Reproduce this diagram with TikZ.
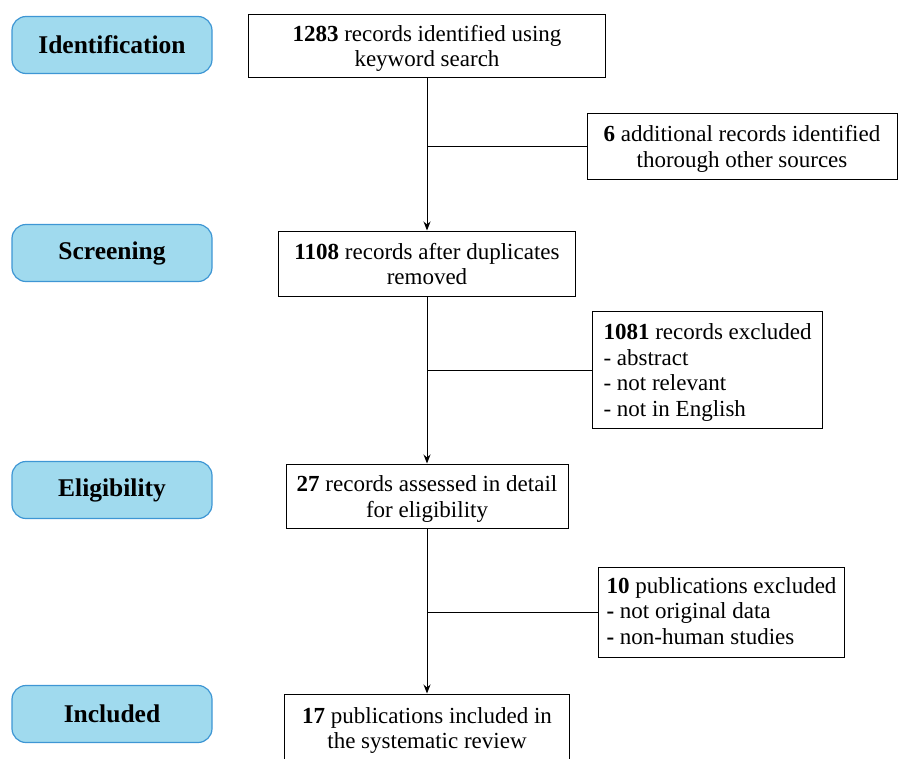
\documentclass[tikz,border=0pt]{standalone}
\usepackage{fontspec}
\setmainfont{Liberation Serif}
\usetikzlibrary{arrows.meta}
\definecolor{stagefill}{RGB}{160,218,238}
\definecolor{stageline}{RGB}{62,150,212}
\tikzset{
  stage/.style={draw=stageline,fill=stagefill,line width=1.2pt,rounded corners=14pt,
    minimum width=200pt,minimum height=57pt,font=\fontsize{25.5}{28}\selectfont\bfseries},
  recbox/.style={draw,line width=1pt,align=center,inner sep=0pt,text height=47pt,text depth=5pt,
    font=\fontsize{23}{25.5}\selectfont},
  sidebox/.style={draw,line width=1pt,align=left,inner xsep=10pt,inner ysep=0pt,text depth=5pt,
    font=\fontsize{23}{25.5}\selectfont},
  flow/.style={line width=1pt,-{Stealth[length=9pt,width=7pt]}}
}
\begin{document}
\begin{tikzpicture}[x=1pt,y=-1pt]
  \useasboundingbox (0,0) rectangle (904,758);
  \clip (0,0) rectangle (904,758);
  % stages
  \node[stage] (ident) at (112,45) {Identification};
  \node[stage] (screen) at (112,253) {Screening};
  \node[stage] (elig) at (112,490) {Eligibility};
  \node[stage] (incl) at (112,714) {Included};
  % records
  \node[recbox,minimum width=357pt,minimum height=63pt] (found) at (427,45.5)
    {\textbf{1283} records identified using\\keyword search};
  \node[recbox,minimum width=297pt,minimum height=65pt] (dedup) at (427,263.5)
    {\textbf{1108} records after duplicates\\removed};
  \node[recbox,minimum width=282pt,minimum height=64pt] (assess) at (427,496)
    {\textbf{27} records assessed in detail\\for eligibility};
  \node[recbox,minimum width=285pt,minimum height=67pt] (final) at (427,727.5)
    {\textbf{17} publications included in\\the systematic review};
  % side boxes
  \node[recbox,minimum width=310pt,minimum height=66pt] (other) at (742,146)
    {\textbf{6} additional records identified\\thorough other sources};
  \node[sidebox,anchor=north west,inner xsep=11pt,text height=97pt,minimum height=117pt] (excl1) at (592,311)
    {\textbf{1081} records excluded\\- abstract\\- not relevant\\- not in English};
  \node[sidebox,anchor=north west,inner xsep=8pt,text height=68pt,minimum height=90pt] (excl2) at (598,567)
    {\textbf{10} publications excluded\\\textbf{-} not original data\\\textbf{-} non-human studies};
  % arrows
  \draw[flow] (found) -- (dedup);
  \draw[flow] (dedup) -- (assess);
  \draw[flow] (assess) -- (final);
  \draw[line width=1pt] (other.west) -- (other.west -| found);
  \draw[line width=1pt] (excl1.west) -- (excl1.west -| dedup);
  \draw[line width=1pt] (excl2.west) -- (excl2.west -| assess);
\end{tikzpicture}
\end{document}
